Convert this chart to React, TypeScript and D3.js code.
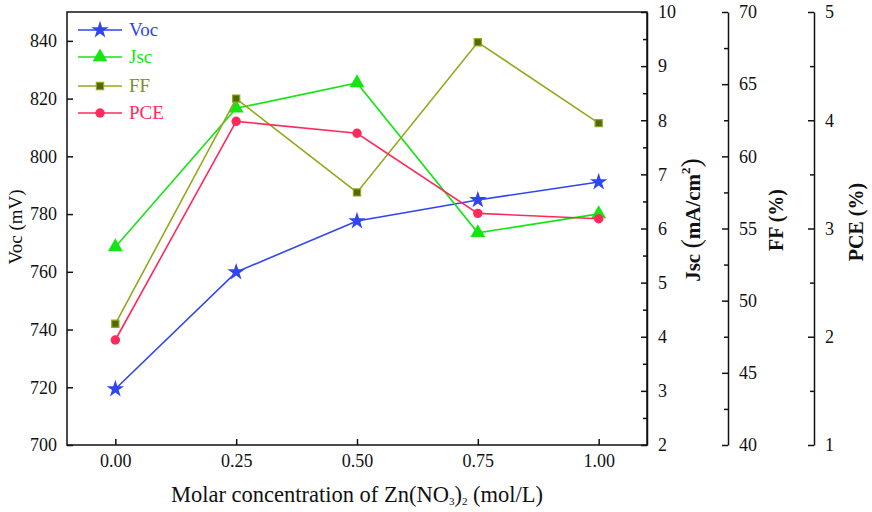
import { useRef, useEffect } from 'react'
import * as d3 from 'd3'

const concentrations = [0, 0.25, 0.5, 0.75, 1.0]
const vocValues = [719.4, 759.9, 777.6, 784.9, 791.1]
const jscValues = [5.66, 8.22, 8.69, 5.92, 6.27]
const ffValues = [48.4, 64.0, 57.5, 67.9, 62.3]
const pceValues = [1.97, 3.99, 3.88, 3.14, 3.09]

const xTicks = [0, 0.25, 0.5, 0.75, 1.0]
const vocTicks = [700, 720, 740, 760, 780, 800, 820, 840]
const jscTicks = [2, 3, 4, 5, 6, 7, 8, 9, 10]
const ffTicks = [40, 45, 50, 55, 60, 65, 70]
const pceTicks = [1, 2, 3, 4, 5]

const FONT = "'Liberation Serif', 'Times New Roman', serif"

export default function App() {
  const ref = useRef<SVGSVGElement>(null)

  useEffect(() => {
    if (!ref.current) return
    document.body.style.margin = '0'
    const svg = d3.select(ref.current)
    svg.selectAll('*').remove()

    const left = 67
    const right = 647
    const top = 12
    const bottom = 445
    const ffAxisX = 728
    const pceAxisX = 814

    const x = d3.scaleLinear().domain([-0.1, 1.1]).range([left, right])
    const yVoc = d3.scaleLinear().domain([700, 850]).range([bottom, top])
    const yJsc = d3.scaleLinear().domain([2, 10]).range([bottom, top])
    const yFF = d3.scaleLinear().domain([40, 70]).range([bottom, top])
    const yPCE = d3.scaleLinear().domain([1, 5]).range([bottom, top])

    // frame
    svg
      .append('rect')
      .attr('x', left)
      .attr('y', top)
      .attr('width', right - left)
      .attr('height', bottom - top)
      .attr('fill', 'none')
      .attr('stroke', '#111')
      .attr('stroke-width', 1.5)

    const styleAxis = (g: d3.Selection<SVGGElement, unknown, null, undefined>) => {
      g.select('.domain').attr('stroke', '#111').attr('stroke-width', 1.5)
      g.selectAll('.tick line').attr('stroke', '#111').attr('stroke-width', 1.5)
      g.selectAll('.tick text')
        .style('font-family', FONT)
        .style('font-size', '18px')
        .attr('fill', '#111')
    }

    // bottom axis (ticks inward)
    const gx = svg
      .append('g')
      .attr('transform', `translate(0,${bottom})`)
      .call(d3.axisBottom(x).tickValues(xTicks).tickFormat(d3.format('.2f')).tickSizeInner(-6).tickSizeOuter(0).tickPadding(9))
    styleAxis(gx)
    gx.select('.domain').remove()

    // left Voc axis (ticks inward)
    const gl = svg
      .append('g')
      .attr('transform', `translate(${left},0)`)
      .call(d3.axisLeft(yVoc).tickValues(vocTicks).tickFormat(d3.format('d')).tickSizeInner(-6).tickSizeOuter(0).tickPadding(10))
    styleAxis(gl)
    gl.select('.domain').remove()

    // right-hand axes: major + minor ticks on the left side, labels on the right
    const rightAxis = (
      ax: number,
      scale: d3.ScaleLinear<number, number>,
      ticks: number[],
      minorStep: number
    ) => {
      const minor = d3.range(scale.domain()[0], scale.domain()[1] + 1e-9, minorStep).filter(
        (v) => !ticks.some((t) => Math.abs(t - v) < 1e-9)
      )
      const g = svg
        .append('g')
        .attr('transform', `translate(${ax},0)`)
        .call(d3.axisRight(scale).tickValues(ticks).tickFormat(d3.format('d')).tickSizeInner(-6).tickSizeOuter(0).tickPadding(11))
      styleAxis(g)
      const gm = svg
        .append('g')
        .attr('transform', `translate(${ax},0)`)
        .call(d3.axisRight(scale).tickValues(minor).tickFormat(() => '').tickSizeInner(-4).tickSizeOuter(0))
      styleAxis(gm)
      gm.select('.domain').remove()
    }

    rightAxis(right, yJsc, jscTicks, 0.5)
    rightAxis(ffAxisX, yFF, ffTicks, 2.5)
    rightAxis(pceAxisX, yPCE, pceTicks, 0.5)

    const title = (tx: number, ty: number, size: number, bold: boolean, rotate: boolean) =>
      svg
        .append('text')
        .attr('transform', rotate ? `translate(${tx},${ty}) rotate(-90)` : `translate(${tx},${ty})`)
        .attr('text-anchor', 'middle')
        .style('font-family', FONT)
        .style('font-size', `${size}px`)
        .style('font-weight', bold ? 'bold' : 'normal')
        .attr('fill', '#111')

    // axis titles
    title(22, 227, 19, false, true).text('Voc (mV)')

    const jscTitle = title(700, 220, 21, true, true)
    jscTitle.append('tspan').text('Jsc ')
    jscTitle.append('tspan').style('font-size', '28px').style('font-weight', 'normal').text('(')
    jscTitle.append('tspan').text('mA/cm')
    jscTitle.append('tspan').style('font-size', '13px').attr('dy', -10).text('2')
    jscTitle.append('tspan').style('font-size', '28px').style('font-weight', 'normal').attr('dy', 10).text(')')

    title(783, 220, 20, true, true).text('FF (%)')
    title(863, 222, 20, true, true).text('PCE (%)')

    const xTitle = title((left + right) / 2, 502, 22.5, false, false)
    xTitle.append('tspan').text('Molar concentration of Zn(NO')
    xTitle.append('tspan').style('font-size', '11px').attr('dy', 3).text('3')
    xTitle.append('tspan').attr('dy', -3).text(')')
    xTitle.append('tspan').style('font-size', '11px').attr('dy', 3).text('2')
    xTitle.append('tspan').attr('dy', -3).text(' (mol/L)')

    const series = [
      { name: 'Voc', values: vocValues, scale: yVoc, line: '#2f45f2', fill: '#2f45f2', stroke: 'none', symbol: d3.symbolStar, size: 95 },
      { name: 'Jsc', values: jscValues, scale: yJsc, line: '#14e614', fill: '#14e614', stroke: 'none', symbol: d3.symbolTriangle, size: 95 },
      { name: 'FF', values: ffValues, scale: yFF, line: '#94a81c', fill: '#4f6a00', stroke: '#94a81c', symbol: d3.symbolSquare, size: 52 },
      { name: 'PCE', values: pceValues, scale: yPCE, line: '#ff2a5c', fill: '#ff2a5c', stroke: 'none', symbol: d3.symbolCircle, size: 70 },
    ]

    series.forEach((s) => {
      const line = d3
        .line<number>()
        .x((_, i) => x(concentrations[i]))
        .y((d) => s.scale(d))
      svg
        .append('path')
        .datum(s.values)
        .attr('d', line)
        .attr('fill', 'none')
        .attr('stroke', s.line)
        .attr('stroke-width', 1.6)

      svg
        .append('g')
        .selectAll('path')
        .data(s.values)
        .join('path')
        .attr('transform', (d, i) => `translate(${x(concentrations[i])},${s.scale(d)})`)
        .attr('d', d3.symbol().type(s.symbol).size(s.size)()!)
        .attr('fill', s.fill)
        .attr('stroke', s.stroke)
        .attr('stroke-width', 1.2)
    })

    // legend
    const legendRows = [30, 57, 86, 113]
    series.forEach((s, i) => {
      const ly = legendRows[i]
      svg
        .append('line')
        .attr('x1', 78)
        .attr('x2', 122)
        .attr('y1', ly)
        .attr('y2', ly)
        .attr('stroke', s.line)
        .attr('stroke-width', 1.6)
      svg
        .append('path')
        .attr('transform', `translate(100,${ly})`)
        .attr('d', d3.symbol().type(s.symbol).size(s.size)()!)
        .attr('fill', s.fill)
        .attr('stroke', s.stroke)
        .attr('stroke-width', 1.2)
      svg
        .append('text')
        .attr('x', 129)
        .attr('y', ly + 6)
        .style('font-family', FONT)
        .style('font-size', '19px')
        .attr('fill', s.name === 'FF' ? '#7f8f1a' : s.line)
        .text(s.name)
    })
  }, [])

  return <svg ref={ref} width={872} height={512} style={{ display: 'block', background: '#fff' }} />
}
